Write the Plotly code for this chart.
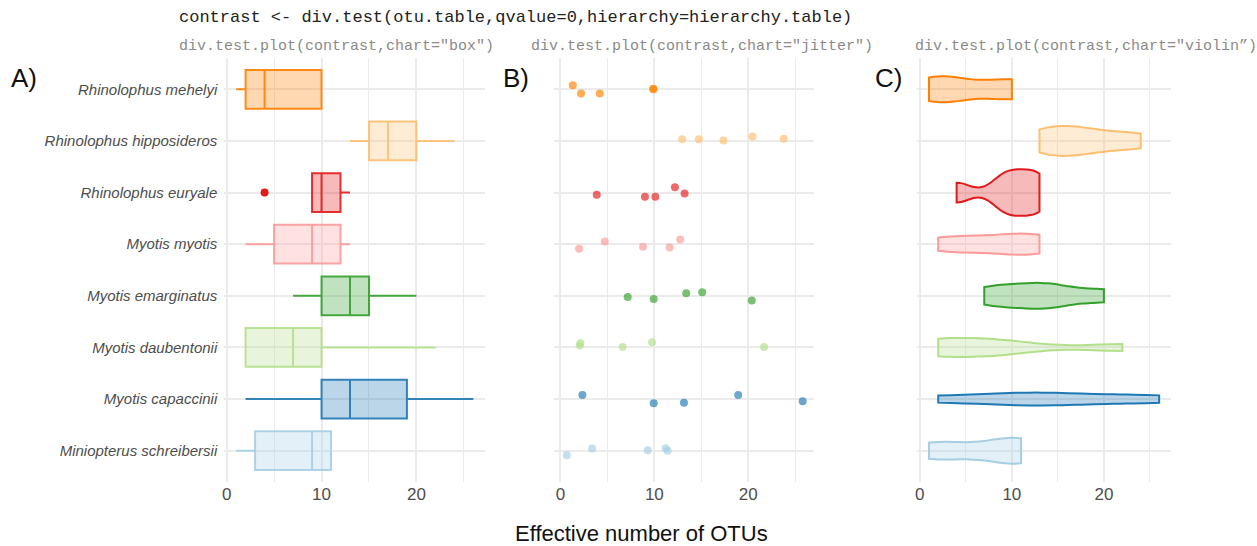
import numpy as np
import plotly.graph_objects as go

# ---------------- data ----------------
species = ["Rhinolophus mehelyi", "Rhinolophus hipposideros", "Rhinolophus euryale",
           "Myotis myotis", "Myotis emarginatus", "Myotis daubentonii",
           "Myotis capaccinii", "Miniopterus schreibersii"]

# effective number of OTUs per sample (box + violin panels)
otu_mehelyi = [1, 2, 4, 10, 10]
otu_hipposideros = [13, 15, 17, 20, 24]
otu_euryale = [4, 9, 10, 12, 13]
otu_myotis = [2, 5, 9, 12, 13]
otu_emarginatus = [7, 10, 13, 15, 20]
otu_daubentonii = [2, 2, 7, 10, 22]
otu_capaccinii = [2, 10, 13, 19, 26]
otu_schreibersii = [1, 3, 9, 11, 11]

# jittered positions (x value, vertical offset in rows)
jit_x_mehelyi = [1.32, 2.2, 4.19, 9.88, 9.9]
jit_dy_mehelyi = [0.08, -0.08, -0.08, 0.0, 0.01]
jit_x_hipposideros = [12.96, 14.74, 17.36, 20.45, 23.77]
jit_dy_hipposideros = [0.03, 0.03, 0.01, 0.085, 0.04]
jit_x_euryale = [3.87, 9.0, 10.1, 12.19, 13.22]
jit_dy_euryale = [-0.045, -0.083, -0.083, 0.105, -0.02]
jit_x_myotis = [1.99, 4.72, 8.79, 11.63, 12.75]
jit_dy_myotis = [-0.09, 0.05, -0.05, -0.065, 0.09]
jit_x_emarginatus = [7.16, 9.93, 13.39, 15.09, 20.37]
jit_dy_emarginatus = [-0.025, -0.06, 0.05, 0.07, -0.09]
jit_x_daubentonii = [2.06, 2.13, 6.63, 9.75, 21.68]
jit_dy_daubentonii = [0.04, 0.085, 0.01, 0.1, 0.01]
jit_x_capaccinii = [2.34, 9.93, 13.15, 18.92, 25.79]
jit_dy_capaccinii = [0.08, -0.08, -0.07, 0.08, -0.04]
jit_x_schreibersii = [0.68, 3.37, 9.29, 11.2, 11.41]
jit_dy_schreibersii = [-0.09, 0.045, 0.01, 0.05, 0.0]

x_ticks = [0, 10, 20]

title_text = "contrast <- div.test(otu.table,qvalue=0,hierarchy=hierarchy.table)"
sub_texts = ['div.test.plot(contrast,chart="box")',
             'div.test.plot(contrast,chart="jitter")',
             'div.test.plot(contrast,chart="violin\u201d)']
panel_labels = ["A)", "B)", "C)"]
x_title = "Effective number of OTUs"

# ---------------- styling ----------------
colors = ["#FF7F00", "#FDBF6F", "#E31A1C", "#FB9A99",
          "#33A02C", "#B2DF8A", "#1F78B4", "#A6CEE3"]
violin_widths = [0.50, 0.58, 0.90, 0.41, 0.50, 0.37, 0.25, 0.50]

otu_sets = [otu_mehelyi, otu_hipposideros, otu_euryale, otu_myotis,
            otu_emarginatus, otu_daubentonii, otu_capaccinii, otu_schreibersii]
jit_xs = [jit_x_mehelyi, jit_x_hipposideros, jit_x_euryale, jit_x_myotis,
          jit_x_emarginatus, jit_x_daubentonii, jit_x_capaccinii, jit_x_schreibersii]
jit_dys = [jit_dy_mehelyi, jit_dy_hipposideros, jit_dy_euryale, jit_dy_myotis,
           jit_dy_emarginatus, jit_dy_daubentonii, jit_dy_capaccinii, jit_dy_schreibersii]


def rgba(hexc, a):
    h = hexc.lstrip("#")
    r, g, b = int(h[0:2], 16), int(h[2:4], 16), int(h[4:6], 16)
    return f"rgba({r},{g},{b},{a})"


def nrd0(v):
    v = np.asarray(v, float)
    sd = v.std(ddof=1)
    q1, q3 = np.percentile(v, [25, 75])
    lo = min(sd, (q3 - q1) / 1.34) if (q3 - q1) > 0 else sd
    return 0.9 * lo * len(v) ** -0.2


n = len(species)
positions = [n - i for i in range(n)]

fig = go.Figure()

for i, sp in enumerate(species):
    c = colors[i]
    pos = positions[i]
    vals = otu_sets[i]
    # Panel A: box
    fig.add_trace(go.Box(
        x=vals, y0=pos, orientation="h", xaxis="x", yaxis="y",
        width=0.75, quartilemethod="inclusive", boxpoints="outliers",
        jitter=0, pointpos=0, whiskerwidth=0,
        fillcolor=rgba(c, 0.3), line=dict(color=rgba(c, 0.9), width=2),
        marker=dict(color=c, size=8, opacity=1, line=dict(width=0)),
        name=sp, hoverinfo="x",
    ))
    # Panel B: jitter
    fig.add_trace(go.Scatter(
        x=jit_xs[i], y=[pos + d for d in jit_dys[i]], mode="markers",
        xaxis="x2", yaxis="y2",
        marker=dict(color=c, size=8, opacity=0.65, line=dict(width=0)),
        name=sp, hoverinfo="x",
    ))
    # Panel C: violin
    fig.add_trace(go.Violin(
        x=vals, y0=pos, orientation="h", xaxis="x3", yaxis="y3",
        side="both", width=violin_widths[i], scalemode="width",
        spanmode="hard", bandwidth=nrd0(vals), points=False,
        fillcolor=rgba(c, 0.3), line=dict(color=c, width=2),
        box=dict(visible=False), meanline=dict(visible=False),
        name=sp, hoverinfo="x",
    ))

W, H = 1257, 546
grid = "#EBEBEB"
tickfont = dict(family="Liberation Sans, Arial, sans-serif", size=17, color="#4D4D4D")


def xaxis(x0px, x1px, rng, anchor):
    return dict(
        domain=[x0px / W, x1px / W], range=rng, anchor=anchor,
        tickmode="linear", tick0=0, dtick=10,
        showgrid=True, gridcolor=grid, gridwidth=1.8,
        minor=dict(dtick=5, tick0=0, showgrid=True, gridcolor=grid, gridwidth=1.2),
        zeroline=False, showline=False, ticks="", tickfont=tickfont,
        fixedrange=True,
    )


ydom = [(H - 481.7) / H, (H - 58.3) / H]


def yaxis(anchor, labels):
    return dict(
        domain=ydom, range=[0.4, n + 0.6], anchor=anchor,
        tickmode="array", tickvals=positions,
        ticktext=[f"<i>{s}</i>" for s in species],
        showticklabels=labels,
        showgrid=True, gridcolor=grid, gridwidth=1.8,
        zeroline=False, showline=False, ticks="",
        ticklabelstandoff=6,
        tickfont=dict(family="Liberation Sans, Arial, sans-serif", size=15, color="#4D4D4D"),
        fixedrange=True,
    )


annotations = [
    dict(text=title_text, x=175 / W, y=1 - 18 / H, xref="paper", yref="paper",
         xanchor="left", yanchor="middle", showarrow=False,
         font=dict(family="Liberation Mono, Courier New, monospace", size=17, color="#222222")),
]
for sx, t in zip([175, 528, 912], sub_texts):
    annotations.append(dict(text=t, x=sx / W, y=1 - 46 / H, xref="paper", yref="paper",
                            xanchor="left", yanchor="middle", showarrow=False,
                            font=dict(family="Liberation Mono, Courier New, monospace",
                                      size=15, color="#8A8A8A")))
for lx, t in zip([7, 500, 872], panel_labels):
    annotations.append(dict(text=t, x=lx / W, y=1 - 78 / H, xref="paper", yref="paper",
                            xanchor="left", yanchor="middle", showarrow=False,
                            font=dict(family="Liberation Sans, Arial, sans-serif",
                                      size=26, color="#111111")))
annotations.append(dict(text=x_title, x=641 / W, y=1 - 533 / H, xref="paper", yref="paper",
                        xanchor="center", yanchor="middle", showarrow=False,
                        font=dict(family="Liberation Sans, Arial, sans-serif",
                                  size=22, color="#111111")))

fig.update_layout(
    width=W, height=H, margin=dict(l=0, r=0, t=0, b=0),
    paper_bgcolor="white", plot_bgcolor="white", showlegend=False,
    boxmode="overlay", violinmode="overlay",
    xaxis=xaxis(222.6, 484, [-0.25, 27.25], "y"),
    xaxis2=xaxis(553, 813, [-0.67, 26.96], "y2"),
    xaxis3=xaxis(916.7, 1170.7, [-0.28, 27.27], "y3"),
    yaxis=yaxis("x", True),
    yaxis2=yaxis("x2", False),
    yaxis3=yaxis("x3", False),
    annotations=annotations,
)

fig.write_html(
    "out.html",
    config={"displayModeBar": False},
    post_script="document.body.style.margin='0px';document.body.style.overflow='hidden';",
)
